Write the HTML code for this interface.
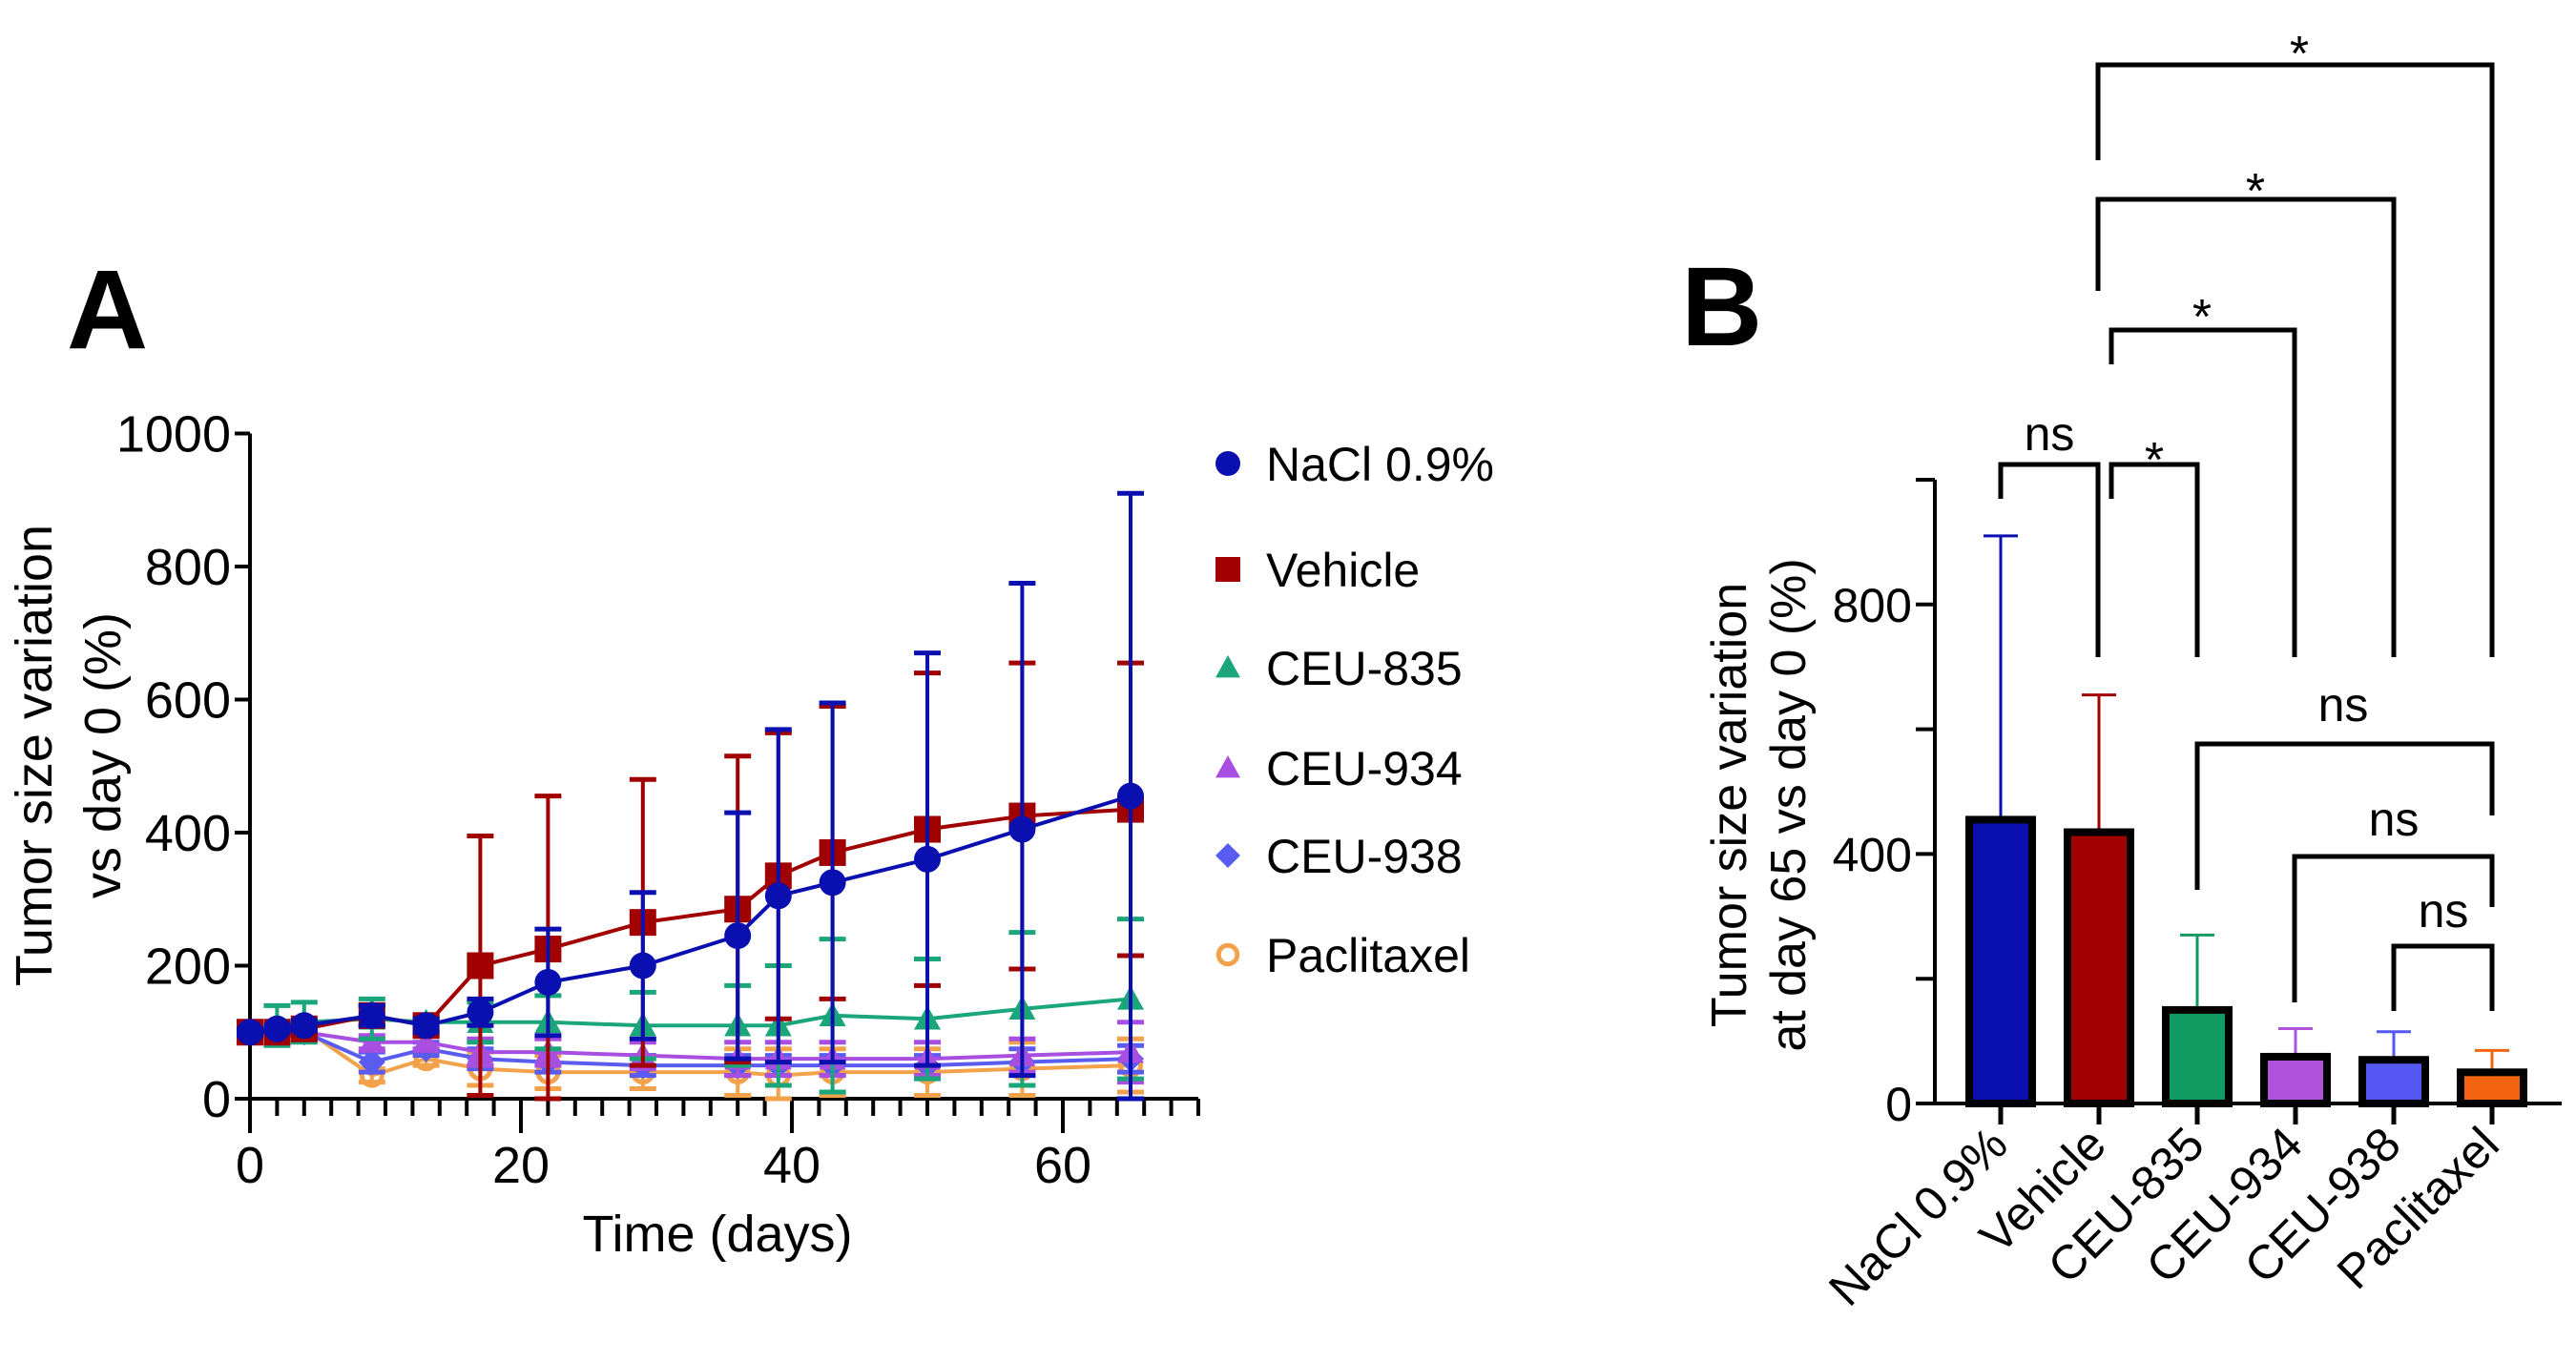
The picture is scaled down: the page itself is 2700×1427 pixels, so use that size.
<!DOCTYPE html>
<html><head><meta charset="utf-8"><style>
html,body{margin:0;padding:0;background:#fff;}
svg{display:block;font-family:"Liberation Sans",Arial,sans-serif;}
</style></head><body>
<svg id="fig" width="2700" height="1427" viewBox="0 0 2700 1427" xmlns="http://www.w3.org/2000/svg">
<text x="70" y="365" font-size="118" font-weight="bold">A</text>
<text x="1762" y="362" font-size="118" font-weight="bold">B</text>
<g id="chartA"></g>
<g id="chartB"></g>
</svg>
<script>
// ---------- Panel A data ----------
const days = [0,2,4,9,13,17,22,29,36,39,43,50,57,65];
const naclMean = [100,105,110,125,110,130,175,200,245,305,325,360,405,455];
const naclSD   = [5,5,8,15,10,20,80,110,185,250,270,310,370,455];
const vehMean  = [100,100,105,125,110,200,225,265,285,335,370,405,425,435];
const vehSD    = [5,5,8,15,10,195,230,215,230,215,220,235,230,220];
const c835Mean = [100,110,115,120,115,115,115,110,110,110,125,120,135,150];
const c835SD   = [10,30,30,30,10,30,40,50,60,90,115,90,115,120];
const c934Mean = [100,100,100,85,85,70,70,65,60,60,60,60,65,70];
const c934SD   = [5,5,5,10,10,20,20,20,25,25,25,25,25,45];
const c938Mean = [100,100,100,55,75,60,55,50,50,50,50,50,55,60];
const c938SD   = [5,5,5,15,10,15,15,15,15,15,15,15,20,20];
const pacMean  = [100,100,105,35,60,45,40,40,40,35,40,40,45,50];
const pacSD    = [5,5,5,10,10,25,25,25,35,40,35,35,40,40];
const yTicksA = [0,200,400,600,800,1000];
const xTicksA = [0,20,40,60];

// ---------- Panel B data ----------
const groups = ["NaCl 0.9%","Vehicle","CEU-835","CEU-934","CEU-938","Paclitaxel"];
const barMeans = [455,435,150,75,70,50];
const barErrTop = [910,655,270,120,115,85];
const yTicksB = [0,400,800];
const yMinorB = [200,600,1000];

const NS="http://www.w3.org/2000/svg";
function mk(parent,tag,attrs){const e=document.createElementNS(NS,tag);for(const k in attrs)e.setAttribute(k,attrs[k]);parent.appendChild(e);return e;}

// ===== Panel A =====
const A=document.getElementById('chartA');
const ax0=262, axPerDay=14.2, ay0=1152, ayPer=0.6975;
const xA=d=>ax0+d*axPerDay, yA=v=>ay0-v*ayPer;
let ln;
ln=mk(A,'line',{x1:xA(0),y1:yA(0),x2:xA(0),y2:yA(1000),stroke:'#000','stroke-width':4});

ln=mk(A,'line',{x1:xA(0)-2,y1:yA(0),x2:xA(70),y2:yA(0),stroke:'#000','stroke-width':4});

yTicksA.forEach(v=>{
  mk(A,'line',{x1:xA(0)-16,y1:yA(v),x2:xA(0),y2:yA(v),stroke:'#000','stroke-width':4});
  const t=mk(A,'text',{x:xA(0)-20,y:yA(v)+19,'font-size':54,'text-anchor':'end'});t.textContent=v;
  
});
for(let d=0;d<=70;d+=2){const major=d%20===0;mk(A,'line',{x1:xA(d),y1:yA(0),x2:xA(d),y2:yA(0)+(major?36:18),stroke:'#000','stroke-width':4});}
xTicksA.forEach(d=>{const t=mk(A,'text',{x:xA(d),y:yA(0)+88,'font-size':54,'text-anchor':'middle'});t.textContent=d;
  });
let t=mk(A,'text',{x:752,y:1312,'font-size':54,'text-anchor':'middle'});t.textContent='Time (days)';

t=mk(A,'text',{transform:'translate(54,792) rotate(-90)','font-size':54,'text-anchor':'middle'});t.textContent='Tumor size variation';

t=mk(A,'text',{transform:'translate(126,792) rotate(-90)','font-size':54,'text-anchor':'middle'});t.textContent='vs day 0 (%)';


const series=[
 {m:pacMean,s:pacSD,c:'#f2a24a',shape:'ocircle',key:'paclitaxel',name:'Paclitaxel'},
 {m:c938Mean,s:c938SD,c:'#5a5cf0',shape:'diamond',key:'ceu-938',name:'CEU-938'},
 {m:c934Mean,s:c934SD,c:'#a84ee0',shape:'tri',key:'ceu-934',name:'CEU-934'},
 {m:c835Mean,s:c835SD,c:'#1aa57a',shape:'tri',key:'ceu-835',name:'CEU-835'},
 {m:vehMean,s:vehSD,c:'#a00000',shape:'square',key:'vehicle',name:'Vehicle'},
 {m:naclMean,s:naclSD,c:'#0a0fb0',shape:'circle',key:'nacl',name:'NaCl 0.9%'}
];
function marker(g,shape,x,y,c,r){
  let e;
  if(shape==='circle')e=mk(g,'circle',{cx:x,cy:y,r:r,fill:c});
  else if(shape==='ocircle')e=mk(g,'circle',{cx:x,cy:y,r:r*0.75,fill:'none',stroke:c,'stroke-width':5});
  else if(shape==='square')e=mk(g,'rect',{x:x-r,y:y-r,width:2*r,height:2*r,fill:c});
  else if(shape==='tri')e=mk(g,'polygon',{points:`${x},${y-r} ${x+r},${y+r*0.8} ${x-r},${y+r*0.8}`,fill:c});
  else e=mk(g,'polygon',{points:`${x},${y-r} ${x+r},${y} ${x},${y+r} ${x-r},${y}`,fill:c});
  return e;
}
series.forEach(se=>{
  const g=mk(A,'g',{});
  
  days.forEach((d,i)=>{
    const hi=se.m[i]+se.s[i], lo=Math.max(0,se.m[i]-se.s[i]);
    mk(g,'line',{x1:xA(d),y1:yA(hi),x2:xA(d),y2:yA(lo),stroke:se.c,'stroke-width':4});
    mk(g,'line',{x1:xA(d)-14,y1:yA(hi),x2:xA(d)+14,y2:yA(hi),stroke:se.c,'stroke-width':5});
    mk(g,'line',{x1:xA(d)-14,y1:yA(lo),x2:xA(d)+14,y2:yA(lo),stroke:se.c,'stroke-width':5});
  });
  mk(g,'polyline',{points:days.map((d,i)=>xA(d)+','+yA(se.m[i])).join(' '),fill:'none',stroke:se.c,'stroke-width':4});
  days.forEach((d,i)=>{const p=marker(g,se.shape,xA(d),yA(se.m[i]),se.c,14);
    });
});
// legend
const legY=[486,597,700,805,897,1001];
const legOrder=[5,4,3,2,1,0];
legOrder.forEach((si,k)=>{
  const se=series[si];
  const g=mk(A,'g',{});
  
  marker(g,se.shape,1287,legY[k],se.c,13);
  const tx=mk(g,'text',{x:1327,y:legY[k]+18,'font-size':50});tx.textContent=se.name;
});

// ===== Panel B =====
const B=document.getElementById('chartB');
const bx0=2028, by0=1157, byPer=0.654, bx1=2097, bStep=103, bw=66;
const yB=v=>by0-v*byPer, xB=i=>bx1+i*bStep;
ln=mk(B,'line',{x1:bx0,y1:yB(0)+2,x2:bx0,y2:yB(1000),stroke:'#000','stroke-width':4});

ln=mk(B,'line',{x1:bx0,y1:yB(0),x2:2685,y2:yB(0),stroke:'#000','stroke-width':4});

yTicksB.concat(yMinorB).forEach(v=>mk(B,'line',{x1:bx0-20,y1:yB(v),x2:bx0,y2:yB(v),stroke:'#000','stroke-width':4}));
yTicksB.forEach(v=>{const tt=mk(B,'text',{x:bx0-24,y:yB(v)+18,'font-size':50,'text-anchor':'end'});tt.textContent=v;
  });
t=mk(B,'text',{transform:'translate(1830,844) rotate(-90)','font-size':52,'text-anchor':'middle'});t.textContent='Tumor size variation';

t=mk(B,'text',{transform:'translate(1892,844) rotate(-90)','font-size':52,'text-anchor':'middle'});t.textContent='at day 65  vs day 0 (%)';

const barCols=['#0a10b0','#a00000','#119a62','#b152dc','#5457f2','#f26412'];
groups.forEach((gname,i)=>{
  const x=xB(i);
  mk(B,'line',{x1:x,y1:yB(barMeans[i]),x2:x,y2:yB(barErrTop[i]),stroke:barCols[i],'stroke-width':3});
  mk(B,'line',{x1:x-18,y1:yB(barErrTop[i]),x2:x+18,y2:yB(barErrTop[i]),stroke:barCols[i],'stroke-width':3});
  const r=mk(B,'rect',{x:x-bw/2,y:yB(barMeans[i]),width:bw,height:yB(0)-yB(barMeans[i]),fill:barCols[i],stroke:'#000','stroke-width':8});
  
  mk(B,'line',{x1:x,y1:yB(0),x2:x,y2:yB(0)+22,stroke:'#000','stroke-width':5});
  const tl=mk(B,'text',{transform:`translate(${x+10},${yB(0)+46}) rotate(-45)`,'font-size':50,'text-anchor':'end'});tl.textContent=gname;
  
});
// significance brackets: [leftX, rightX, topY, leftBottom, rightBottom, label, labelX, labelY]
const brackets=[
 [2097,2199,487,523,689,'ns',2148,456],
 [2213,2303,487,523,689,'*',2258,476],
 [2213,2405,346,382,689,'*',2308,326],
 [2199,2509,209,305,689,'*',2364,194],
 [2199,2612,68,168,689,'*',2410,50],
 [2303,2612,780,933,855,'ns',2456,740],
 [2405,2612,898,1051,951,'ns',2509,860],
 [2509,2612,992,1060,1060,'ns',2561,956]
];
brackets.forEach(b=>{
  const g=mk(B,'g',{});
  
  mk(g,'polyline',{points:`${b[0]},${b[3]} ${b[0]},${b[2]} ${b[1]},${b[2]} ${b[1]},${b[4]}`,fill:'none',stroke:'#000','stroke-width':5});
  const tt=mk(g,'text',{x:b[6],y:b[7]+(b[5]==='*'?24:16),'font-size':b[5]==='*'?52:50,'text-anchor':'middle'});tt.textContent=b[5];
});
</script>
</body></html>
